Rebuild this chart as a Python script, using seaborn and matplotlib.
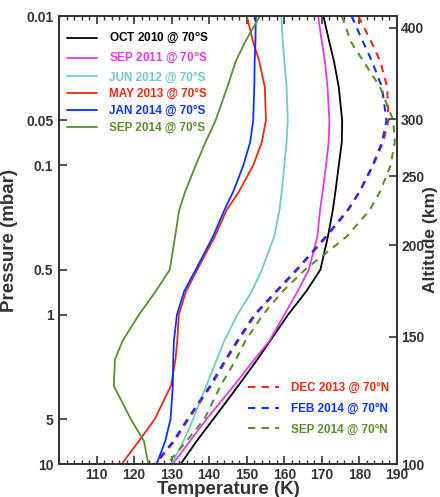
import numpy as np
import pandas as pd
import matplotlib
matplotlib.use("Agg")
import matplotlib.pyplot as plt
import seaborn as sns
from matplotlib.ticker import FixedLocator, NullLocator, MultipleLocator

sns.set_theme(style="white")
plt.rcParams['font.family'] = ['Liberation Sans', 'DejaVu Sans']
plt.rcParams['mathtext.fontset'] = 'custom'
plt.rcParams['mathtext.bf'] = 'Liberation Sans:bold'
plt.rcParams['mathtext.rm'] = 'Liberation Sans'

# pressure levels (mbar)
pressure = [0.01, 0.015, 0.02, 0.03, 0.05, 0.07, 0.1, 0.15, 0.2, 0.3, 0.5, 0.7,
            1, 1.5, 2, 3, 5, 7, 10]

# temperatures (K)
oct2010_s = [170.4, 172.0, 173.2, 174.5, 175.4, 175.3, 174.5, 173.6, 172.9, 171.6, 169.6, 165.8,
             161.0, 156.2, 152.8, 147.7, 141.1, 136.7, 132.4]
sep2011_s = [169.0, 170.0, 170.8, 171.5, 172.0, 171.8, 171.1, 170.2, 169.5, 168.8, 166.5, 163.5,
             160.0, 156.0, 152.0, 146.5, 139.3, 134.9, 130.3]
jun2012_s = [159.2, 159.6, 160.0, 160.6, 160.9, 160.6, 160.0, 159.3, 158.7, 157.3, 154.0, 151.3,
             147.5, 144.0, 142.0, 139.2, 135.7, 133.2, 130.0]
may2013_s = [150.0, 151.7, 153.3, 154.8, 155.1, 154.0, 151.7, 147.9, 144.6, 141.5, 136.8, 133.8,
             131.9, 131.5, 131.0, 129.8, 125.5, 121.3, 116.7]
jan2014_s = [152.4, 152.3, 152.1, 152.0, 151.7, 150.9, 149.1, 146.4, 144.0, 141.0, 136.4, 133.3,
             131.4, 130.6, 130.4, 130.3, 129.7, 128.3, 126.0]
sep2014_s = [153.5, 149.5, 147.1, 144.8, 141.7, 139.0, 136.4, 133.6, 132.0, 130.9, 129.5, 125.7,
             121.3, 116.9, 114.9, 114.6, 119.1, 122.6, 123.8]

dec2013_n = [179.7, 183.2, 185.5, 187.4, 187.7, 186.3, 183.7, 180.1, 177.0, 171.3, 163.5, 158.0,
             152.3, 147.7, 144.6, 140.5, 134.5, 130.8, 125.8]
feb2014_n = [177.9, 181.0, 183.3, 186.0, 187.2, 186.0, 183.5, 180.0, 176.8, 171.0, 163.2, 157.7,
             152.0, 147.4, 144.3, 140.2, 134.2, 130.5, 125.5]
sep2014_n = [175.3, 177.8, 181.0, 185.5, 189.0, 189.4, 188.3, 185.5, 182.7, 176.6, 165.5, 159.5,
             154.3, 149.6, 147.1, 143.0, 138.7, 134.0, 128.8]

south_labels = ["OCT 2010 @ 70$^{\\mathbf{o}}$S", "SEP 2011 @ 70$^{\\mathbf{o}}$S",
                "JUN 2012 @ 70°S", "MAY 2013 @ 70°S", "JAN 2014 @ 70°S",
                "SEP 2014 @ 70°S"]
north_labels = ["DEC 2013 @ 70°N", "FEB 2014 @ 70°N", "SEP 2014 @ 70°N"]

temp_ticks = [110, 120, 130, 140, 150, 160, 170, 180, 190]
press_ticks = [0.01, 0.05, 0.1, 0.5, 1, 5, 10]
press_tick_labels = ["0.01", "0.05", "0.1", "0.5", "1", "5", "10"]
alt_labels = [100, 150, 200, 250, 300, 400]
alt_pressure = [10.0, 1.41, 0.342, 0.118, 0.049, 0.012]

south_series = [oct2010_s, sep2011_s, jun2012_s, may2013_s, jan2014_s, sep2014_s]
north_series = [dec2013_n, feb2014_n, sep2014_n]
south_colors = ["#000000", "#e23ce8", "#74c9c9", "#ee2a10", "#0a33ff", "#5a8f2e"]
north_colors = ["#ee2a10", "#0a33ff", "#5a8f2e"]

fig = plt.figure(figsize=(4.40, 4.97), dpi=100)
ax = fig.add_axes([59/440, 1-464/497, 338/440, 448/497])

h_s = []
for lab, vals, col in zip(south_labels, south_series, south_colors):
    df = pd.DataFrame({"T": vals, "P": pressure})
    sns.lineplot(data=df, x="T", y="P", sort=False, estimator=None, color=col,
                 lw=1.3, ax=ax, label=lab, legend=False)
    h_s.append(ax.lines[-1])
h_n = []
for lab, vals, col in zip(north_labels, north_series, north_colors):
    df = pd.DataFrame({"T": vals, "P": pressure})
    sns.lineplot(data=df, x="T", y="P", sort=False, estimator=None, color=col,
                 lw=1.5, ax=ax, label=lab, legend=False)
    ln = ax.lines[-1]
    ln.set_dashes((3.5, 3))
    h_n.append(ln)

ax.set_yscale("log")
ax.set_ylim(10, 0.01)
ax.set_xlim(100, 190)
ax.yaxis.set_major_locator(FixedLocator(press_ticks))
ax.yaxis.set_minor_locator(NullLocator())
ax.set_yticklabels(press_tick_labels)
ax.xaxis.set_major_locator(FixedLocator(temp_ticks))
ax.xaxis.set_minor_locator(MultipleLocator(2))
ax.set_xticklabels([str(t) for t in temp_ticks])

for sp in ax.spines.values():
    sp.set_linewidth(1.4)
    sp.set_color("#333333")

ax.tick_params(axis="x", which="major", direction="in", length=6, width=1.2, top=True,
               bottom=True, labelsize=10, color="#333333", pad=3)
ax.tick_params(axis="x", which="minor", direction="in", length=3, width=1.0, top=True,
               bottom=True, color="#333333")
ax.tick_params(axis="y", which="major", direction="in", length=6, width=1.2, left=True,
               right=False, labelsize=10, color="#333333", pad=4)
for t in ax.get_xticklabels() + ax.get_yticklabels():
    t.set_fontweight("bold")
    t.set_color("#333333")

ax.set_xlabel("Temperature (K)", fontsize=13.5, fontweight="bold", color="#333333", labelpad=-1)
ax.set_ylabel("Pressure (mbar)", fontsize=13.5, fontweight="bold", color="#333333", labelpad=6)

ax2 = ax.twinx()
ax2.set_yscale("log")
ax2.set_ylim(10, 0.01)
ax2.yaxis.set_major_locator(FixedLocator(alt_pressure))
ax2.yaxis.set_minor_locator(NullLocator())
ax2.set_yticklabels([str(a) for a in alt_labels])
ax2.tick_params(axis="y", which="major", direction="in", length=6, width=1.2,
                labelsize=10, color="#333333", pad=3)
for t in ax2.get_yticklabels():
    t.set_fontweight("bold")
    t.set_color("#333333")
ax2.set_ylabel("Altitude (km)", fontsize=12.5, fontweight="bold", color="#333333", labelpad=-1)
for sp in ax2.spines.values():
    sp.set_linewidth(1.4)
    sp.set_color("#333333")

leg1 = ax.legend(handles=h_s, loc="upper left", bbox_to_anchor=(0.0, 0.985), frameon=False,
                 prop={"weight": "bold", "size": 8.5}, handlelength=2.5, handletextpad=1.0,
                 labelspacing=0.42, borderaxespad=0.3)
for txt, col in zip(leg1.get_texts(), south_colors):
    txt.set_color(col)
ax.add_artist(leg1)

leg2 = ax.legend(handles=h_n, loc="lower right", bbox_to_anchor=(1.0, 0.045), frameon=False,
                 prop={"weight": "bold", "size": 8.5}, handlelength=2.6, handletextpad=1.0,
                 labelspacing=0.75, borderaxespad=0.3)
for txt, col in zip(leg2.get_texts(), north_colors):
    txt.set_color(col)

fig.savefig("out.png", dpi=100)
